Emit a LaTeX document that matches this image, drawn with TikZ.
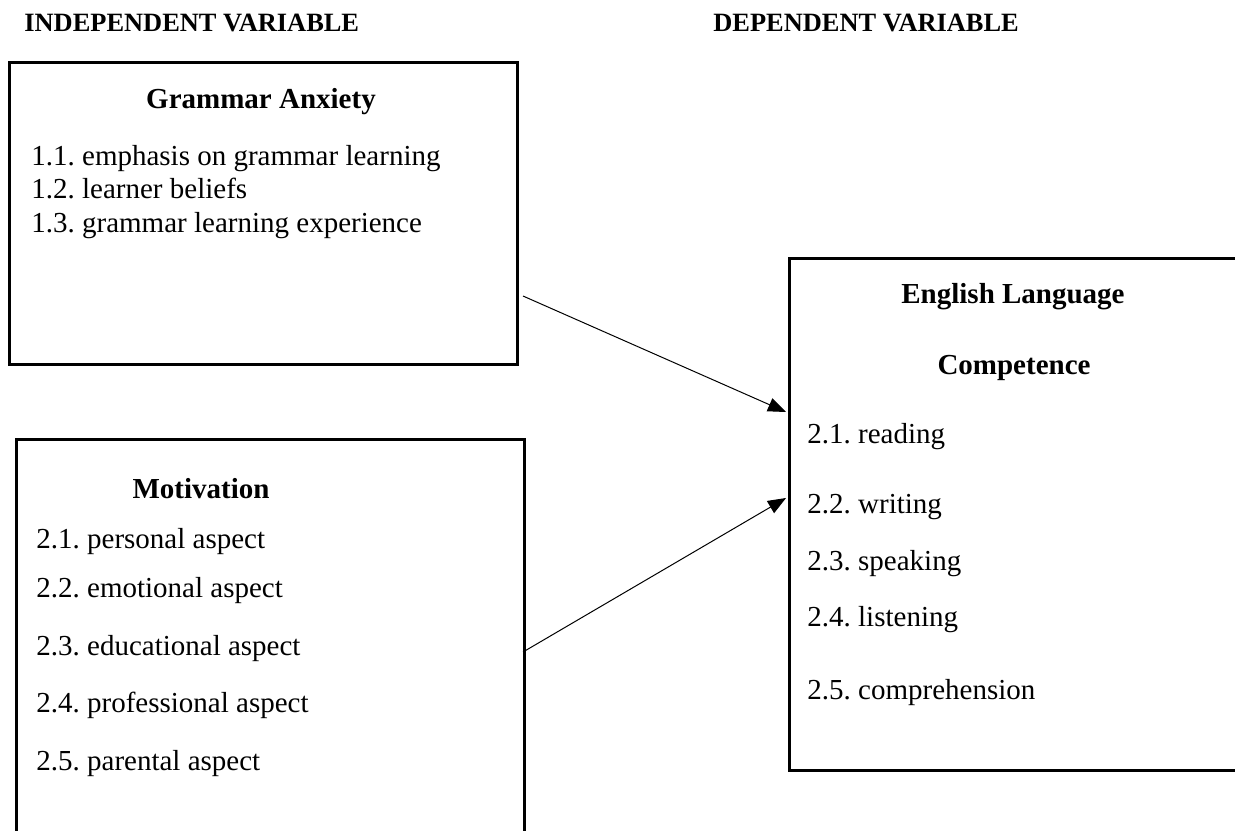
\documentclass[tikz,border=0pt]{standalone}
\usepackage{fontspec}
\setmainfont{Liberation Serif}
\frenchspacing
\usetikzlibrary{arrows.meta}

\tikzset{
  varbox/.style={draw,line width=1.6pt,rectangle,inner sep=0pt,anchor=north west},
  txt/.style={inner sep=0pt,anchor=base west,font=\fontsize{14.5}{17}\selectfont},
  ttl/.style={inner sep=0pt,anchor=base,font=\fontsize{14.5}{17}\selectfont\bfseries},
  hdr/.style={inner sep=0pt,anchor=base west,font=\fontsize{13.2}{16}\selectfont\bfseries},
  link/.style={line width=0.5pt,-{Triangle[length=9pt,width=7pt]}}
}

\begin{document}
\begin{tikzpicture}[x=0.5pt,y=-0.5pt]
\useasboundingbox (0,0) rectangle (1235,830);
\clip (0,0) rectangle (1235,830);

% headings
\node[hdr] (indep) at (24,32) {INDEPENDENT VARIABLE};
\node[hdr] (dep) at (713,32) {DEPENDENT VARIABLE};

% boxes
\node[varbox,minimum width=254pt,minimum height=151pt] (ga) at (8,61) {};
\node[varbox,minimum width=254pt,minimum height=250pt] (mot) at (15,438) {};
\node[varbox,minimum width=226.5pt,minimum height=256pt] (elc) at (788,257) {};

% grammar anxiety
\node[ttl] (gatitle) at (261,108) {Grammar Anxiety};
\foreach \i/\y/\t in {1/165/emphasis on grammar learning, 2/198/learner beliefs, 3/232/grammar learning experience}
  \node[txt] (ga\i) at (31,\y) {1.\i. \t};

% motivation
\node[ttl] (mottitle) at (201,498) {Motivation};
\foreach \i/\y/\t in {1/548/personal aspect, 2/597/emotional aspect, 3/655/educational aspect, 4/712/professional aspect, 5/770/parental aspect}
  \node[txt] (mot\i) at (36,\y) {2.\i. \t};

% english language competence
\node[ttl] (elctitle) at (1013,303) {English Language};
\node[ttl] (elcsub) at (1014,374) {Competence};
\foreach \i/\y/\t in {1/443/reading, 2/513/writing, 3/570/speaking, 4/626/listening, 5/699/comprehension}
  \node[txt] (elc\i) at (807,\y) {2.\i. \t};

% arrows
\coordinate (s1) at (523,296);
\coordinate (s2) at (523,652);
\coordinate (e1) at (786,412);
\coordinate (e2) at (786,498);
\draw[link] (s1) -- (e1);
\draw[link] (s2) -- (e2);
\end{tikzpicture}
\end{document}
